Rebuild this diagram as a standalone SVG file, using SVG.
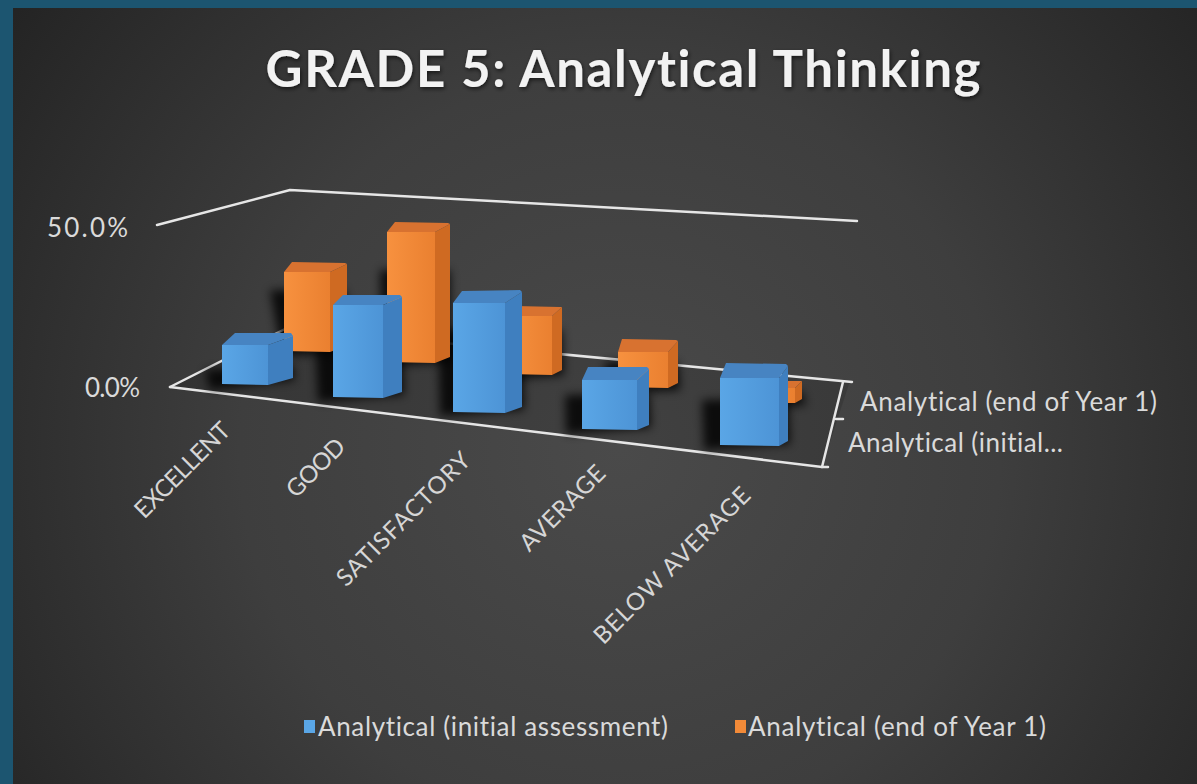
<svg xmlns="http://www.w3.org/2000/svg" width="1197" height="784" viewBox="0 0 1197 784">
<defs>
<radialGradient id="bg" gradientUnits="userSpaceOnUse" cx="620" cy="450" r="760">
<stop offset="0" stop-color="#4a4a4a"/>
<stop offset="0.5" stop-color="#3e3e3e"/>
<stop offset="1" stop-color="#232323"/>
</radialGradient>
<linearGradient id="bFront" x1="0" y1="0" x2="1" y2="0">
<stop offset="0" stop-color="#5aa6e6"/>
<stop offset="1" stop-color="#4d94d6"/>
</linearGradient>
<linearGradient id="oFront" x1="0" y1="0" x2="1" y2="0">
<stop offset="0" stop-color="#f7913f"/>
<stop offset="1" stop-color="#ea8030"/>
</linearGradient>
<filter id="blur" x="-50%" y="-50%" width="200%" height="200%">
<feGaussianBlur stdDeviation="5"/>
</filter>
<filter id="tshadow" x="-5%" y="-20%" width="110%" height="140%">
<feDropShadow dx="1" dy="2" stdDeviation="2" flood-color="#000" flood-opacity="0.6"/>
</filter>
</defs>
<style>
text{font-variant-ligatures:none;font-feature-settings:"liga" 0}
.ax{stroke:#e6e6e6;stroke-width:2.5;fill:none;stroke-linecap:round;stroke-linejoin:round}
.lbl{font-family:Lato,"Open Sans","Liberation Sans",sans-serif;fill:#dadada}
.cat{font-family:Lato,"Open Sans","Liberation Sans",sans-serif;fill:#d6d6d6;font-size:24px}
.bf{fill:url(#bFront)}
.bs{fill:#3f7fbf}
.bt{fill:#4784c2}
.of{fill:url(#oFront)}
.os{fill:#cf6a22}
.ot{fill:#d87230}
.sh{fill:#000;opacity:0.8;filter:url(#blur)}
</style>
<rect x="0" y="0" width="1197" height="784" fill="#1c5570"/>
<rect x="13" y="8" width="1184" height="776" fill="url(#bg)"/>

<text x="623" y="87" text-anchor="middle" font-family="Lato,'Open Sans','Liberation Sans',sans-serif" font-size="51" font-weight="bold" fill="#f2f2f2" textLength="715" filter="url(#tshadow)">GRADE 5: Analytical Thinking</text>

<g id="axes">
<polygon points="170,387 287,328 850,381 822,467" fill="#000" opacity="0.12"/>
<polyline class="ax" points="157,225 290,190 857,221"/>
<polyline class="ax" points="170,387 287,328 852,382"/>
<polyline class="ax" points="170,387 822,467 828,467"/>
<line class="ax" x1="843" y1="382" x2="822" y2="467"/>
<line class="ax" x1="836" y1="419" x2="843" y2="419"/>
<text class="lbl" x="128" y="237" text-anchor="end" font-size="26" textLength="81">50.0%</text>
<text class="lbl" x="140" y="397" text-anchor="end" font-size="26" textLength="55">0.0%</text>
</g>

<g id="shadows">
<polygon class="sh" points="270,290 345,290 352,352 282,356"/>
<polygon class="sh" points="380,270 450,270 452,362 382,366"/>
<polygon class="sh" points="500,330 562,330 564,375 498,380"/>
<polygon class="sh" points="605,362 678,362 680,390 605,394"/>
<polygon class="sh" points="740,392 802,392 806,405 740,408"/>
<polygon class="sh" points="205,370 292,365 295,380 210,390"/>
<polygon class="sh" points="315,340 402,338 404,395 318,402"/>
<polygon class="sh" points="438,330 522,328 524,410 440,416"/>
<polygon class="sh" points="565,395 649,393 651,428 566,434"/>
<polygon class="sh" points="702,400 788,398 790,444 704,450"/>
</g>

<g id="series-end-year1">
<g id="o1"><polygon class="os" points="330,272 347,264 347,346 330,352"/><polygon class="ot" points="284,272 292,262 345,263 347,264 330,272"/><polygon class="of" points="284,272 330,272 330,352 284,351"/></g>
<g id="o2"><polygon class="os" points="435,232 450,224 450,357 435,363"/><polygon class="ot" points="387,232 395,222 448,223 450,224 435,232"/><polygon class="of" points="387,232 435,232 435,363 387,362"/></g>
<g id="o3"><polygon class="os" points="552,316 562,307 562,370 552,375"/><polygon class="ot" points="508,316 515,306 560,307 562,307 552,316"/><polygon class="of" points="508,316 552,316 552,375 508,374"/></g>
<g id="o4"><polygon class="os" points="668,352 678,341 678,383 668,388"/><polygon class="ot" points="618,352 622,339 676,340 678,341 668,352"/><polygon class="of" points="618,352 668,352 668,388 618,387"/></g>
<g id="o5"><polygon class="os" points="795,388 802,381 802,399 795,403"/><polygon class="ot" points="745,388 748,381 800,381 802,381 795,388"/><polygon class="of" points="745,388 795,388 795,403 745,403"/></g>
</g>

<g id="series-initial">
<g id="b1"><polygon class="bs" points="268,345 293,336 293,378 268,385"/><polygon class="bt" points="222,345 235,333 291,333 293,336 268,345"/><polygon class="bf" points="222,345 268,345 268,385 222,384"/></g>
<g id="b2"><polygon class="bs" points="383,305 402,297 402,392 383,398"/><polygon class="bt" points="333,305 343,295 400,295 402,297 383,305"/><polygon class="bf" points="333,305 383,305 383,398 333,397"/></g>
<g id="b3"><polygon class="bs" points="505,303 522,292 522,407 505,413"/><polygon class="bt" points="453,303 462,291 520,290 522,292 505,303"/><polygon class="bf" points="453,303 505,303 505,413 453,412"/></g>
<g id="b4"><polygon class="bs" points="637,380 649,369 649,425 637,430"/><polygon class="bt" points="582,380 588,367 647,367 649,369 637,380"/><polygon class="bf" points="582,380 637,380 637,430 582,429"/></g>
<g id="b5"><polygon class="bs" points="779,378 788,366 788,441 779,446"/><polygon class="bt" points="720,378 726,363 786,364 788,366 779,378"/><polygon class="bf" points="720,378 779,378 779,446 720,445"/></g>
</g>

<g id="categories">
<text class="cat" transform="translate(232,432) rotate(-45)" text-anchor="end" textLength="124">EXCELLENT</text>
<text class="cat" transform="translate(347,448) rotate(-45)" text-anchor="end" textLength="72">GOOD</text>
<text class="cat" transform="translate(472,462) rotate(-45)" text-anchor="end" textLength="178">SATISFACTORY</text>
<text class="cat" transform="translate(607,475) rotate(-45)" text-anchor="end" textLength="110">AVERAGE</text>
<text class="cat" transform="translate(752,497) rotate(-45)" text-anchor="end" textLength="210">BELOW AVERAGE</text>
</g>

<g id="series-labels">
<text class="lbl" x="860" y="411" font-size="26" textLength="297">Analytical (end of Year 1)</text>
<text class="lbl" x="848" y="452" font-size="26" textLength="215">Analytical (initial...</text>
</g>

<g id="legend">
<rect x="304" y="720" width="11" height="13" fill="#5aa6e6"/>
<text class="lbl" x="318" y="736" font-size="26" textLength="350">Analytical (initial assessment)</text>
<rect x="735" y="720" width="11" height="13" fill="#f28a38"/>
<text class="lbl" x="748" y="736" font-size="26" textLength="298">Analytical (end of Year 1)</text>
</g>
</svg>
